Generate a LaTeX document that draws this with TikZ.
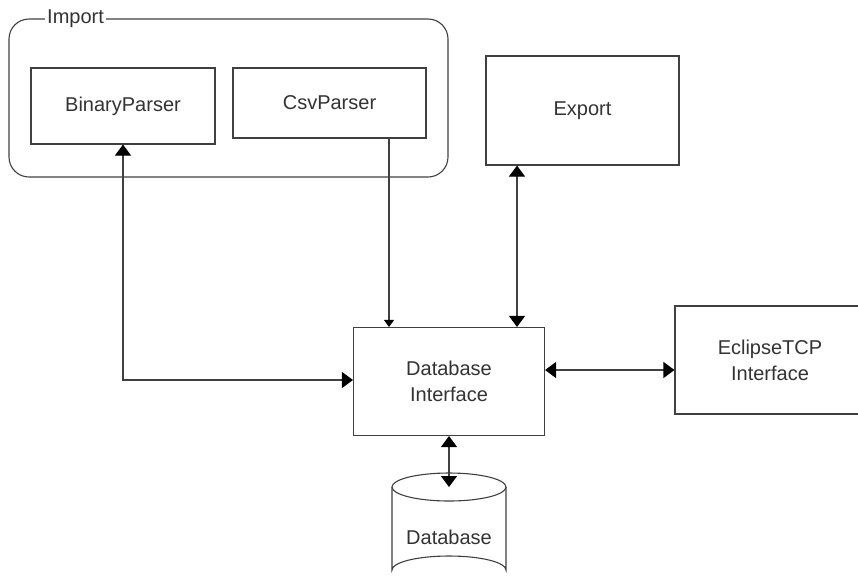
\documentclass[tikz,border=0pt]{standalone}
\usepackage{fontspec}
\setmainfont{Liberation Sans}
\usetikzlibrary{arrows.meta,positioning}
\tikzset{
  box/.style={draw=black!75, line width=1.1pt, fill=white, inner sep=0pt, text=black!80, align=center},
  link/.style={draw=black!75, line width=1.1pt},
  tipB/.style={-{Triangle[width=10pt,length=7pt,color=black]}},
  bigtip/.tip={Triangle[width=16pt,length=11pt,color=black]},
  tipBoth/.style={bigtip-bigtip},
  lbl/.style={font=\fontsize{20}{26}\selectfont, text=black!80, align=center}
}
\begin{document}
\begin{tikzpicture}[x=1pt,y=-1pt]
\useasboundingbox (0,0) rectangle (858,584);
\clip (0,0) rectangle (858,584);
% Import group
\draw[link, rounded corners=20pt] (9,19) rectangle (448,177);
\node[lbl, fill=white, inner sep=2pt, anchor=west] (importlbl) at (45,19) {Import};
% component boxes
\node[box, minimum width=184pt, minimum height=76pt, lbl] (bin) at (123,106) {BinaryParser};
\node[box, minimum width=193pt, minimum height=70pt, lbl] (csv) at (329.5,103) {CsvParser};
\node[box, minimum width=193pt, minimum height=109pt, lbl] (exp) at (582.5,110.5) {Export};
\node[box, minimum width=191pt, minimum height=108pt, lbl] (dbi) at (449,381.5) {Database\\Interface};
\node[box, minimum width=190pt, minimum height=108pt, lbl] (tcp) at (770,360) {EclipseTCP\\Interface};
% database cylinder
\coordinate (dbtop) at (449,487);
\draw[link, fill=white] (392,487) -- (392,570) arc[start angle=180, end angle=360, x radius=57, y radius=14] -- (506,487);
\draw[link, fill=white] (dbtop) ellipse[x radius=57, y radius=14];
\node[lbl] (db) at (449,537) {Database};
% connectors
\draw[link, tipBoth] (dbi.west |- 0,380) -| (bin.south);
\draw[link, tipB] (csv.south -| 389,0) -- (dbi.north -| 389,0);
\draw[link, tipBoth] (exp.south -| 517,0) -- (dbi.north -| 517,0);
\draw[link, tipBoth] (dbi.east |- 0,370) -- (tcp.west |- 0,370);
\draw[link, tipBoth] (dbi.south) -- (dbtop);
\end{tikzpicture}
\end{document}
